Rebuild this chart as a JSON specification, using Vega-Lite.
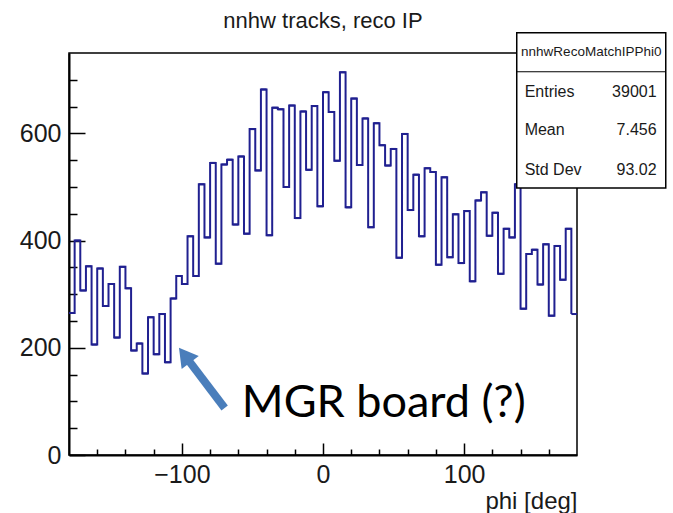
{
  "$schema": "https://vega.github.io/schema/vega-lite/v6.json",
  "width": 508,
  "height": 402,
  "autosize": {"type": "none"},
  "padding": {"left": 69, "top": 53, "right": 96, "bottom": 58},
  "background": "white",
  "config": {"view": {"stroke": "black", "strokeWidth": 1.5}, "font": "Liberation Sans"},
  "title": {"text": "nnhw tracks, reco IP", "fontSize": 22, "fontWeight": "normal", "font": "Liberation Sans", "color": "#1a1a1a", "offset": -18, "baseline": "alphabetic", "frame": "group"},
  "resolve": {"axis": {"x": "independent", "y": "independent"}},
  "datasets": {
    "hist": [
      {"lo": -180, "hi": -176, "n": 265}, {"lo": -176, "hi": -172, "n": 400}, {"lo": -172, "hi": -168, "n": 307}, {"lo": -168, "hi": -164, "n": 352}, {"lo": -164, "hi": -160, "n": 206},
      {"lo": -160, "hi": -156, "n": 348}, {"lo": -156, "hi": -152, "n": 278}, {"lo": -152, "hi": -148, "n": 319}, {"lo": -148, "hi": -144, "n": 219}, {"lo": -144, "hi": -140, "n": 351},
      {"lo": -140, "hi": -136, "n": 311}, {"lo": -136, "hi": -132, "n": 195}, {"lo": -132, "hi": -128, "n": 208}, {"lo": -128, "hi": -124, "n": 152}, {"lo": -124, "hi": -120, "n": 257},
      {"lo": -120, "hi": -116, "n": 188}, {"lo": -116, "hi": -112, "n": 263}, {"lo": -112, "hi": -108, "n": 173}, {"lo": -108, "hi": -104, "n": 292}, {"lo": -104, "hi": -100, "n": 334},
      {"lo": -100, "hi": -96, "n": 319}, {"lo": -96, "hi": -92, "n": 408}, {"lo": -92, "hi": -88, "n": 334}, {"lo": -88, "hi": -84, "n": 505}, {"lo": -84, "hi": -80, "n": 406},
      {"lo": -80, "hi": -76, "n": 545}, {"lo": -76, "hi": -72, "n": 357}, {"lo": -72, "hi": -68, "n": 542}, {"lo": -68, "hi": -64, "n": 551}, {"lo": -64, "hi": -60, "n": 430},
      {"lo": -60, "hi": -56, "n": 557}, {"lo": -56, "hi": -52, "n": 413}, {"lo": -52, "hi": -48, "n": 608}, {"lo": -48, "hi": -44, "n": 531}, {"lo": -44, "hi": -40, "n": 682},
      {"lo": -40, "hi": -36, "n": 410}, {"lo": -36, "hi": -32, "n": 648}, {"lo": -32, "hi": -28, "n": 645}, {"lo": -28, "hi": -24, "n": 500}, {"lo": -24, "hi": -20, "n": 652},
      {"lo": -20, "hi": -16, "n": 442}, {"lo": -16, "hi": -12, "n": 641}, {"lo": -12, "hi": -8, "n": 532}, {"lo": -8, "hi": -4, "n": 651}, {"lo": -4, "hi": 0, "n": 464},
      {"lo": 0, "hi": 4, "n": 677}, {"lo": 4, "hi": 8, "n": 640}, {"lo": 8, "hi": 12, "n": 549}, {"lo": 12, "hi": 16, "n": 714}, {"lo": 16, "hi": 20, "n": 462},
      {"lo": 20, "hi": 24, "n": 665}, {"lo": 24, "hi": 28, "n": 541}, {"lo": 28, "hi": 32, "n": 628}, {"lo": 32, "hi": 36, "n": 425}, {"lo": 36, "hi": 40, "n": 619},
      {"lo": 40, "hi": 44, "n": 578}, {"lo": 44, "hi": 48, "n": 540}, {"lo": 48, "hi": 52, "n": 571}, {"lo": 52, "hi": 56, "n": 368}, {"lo": 56, "hi": 60, "n": 599},
      {"lo": 60, "hi": 64, "n": 457}, {"lo": 64, "hi": 68, "n": 523}, {"lo": 68, "hi": 72, "n": 408}, {"lo": 72, "hi": 76, "n": 535}, {"lo": 76, "hi": 80, "n": 528},
      {"lo": 80, "hi": 84, "n": 355}, {"lo": 84, "hi": 88, "n": 518}, {"lo": 88, "hi": 92, "n": 369}, {"lo": 92, "hi": 96, "n": 449}, {"lo": 96, "hi": 100, "n": 358},
      {"lo": 100, "hi": 104, "n": 455}, {"lo": 104, "hi": 108, "n": 324}, {"lo": 108, "hi": 112, "n": 475}, {"lo": 112, "hi": 116, "n": 490}, {"lo": 116, "hi": 120, "n": 409},
      {"lo": 120, "hi": 124, "n": 452}, {"lo": 124, "hi": 128, "n": 338}, {"lo": 128, "hi": 132, "n": 422}, {"lo": 132, "hi": 136, "n": 406}, {"lo": 136, "hi": 140, "n": 505},
      {"lo": 140, "hi": 144, "n": 273}, {"lo": 144, "hi": 148, "n": 375}, {"lo": 148, "hi": 152, "n": 383}, {"lo": 152, "hi": 156, "n": 318}, {"lo": 156, "hi": 160, "n": 393},
      {"lo": 160, "hi": 164, "n": 260}, {"lo": 164, "hi": 168, "n": 390}, {"lo": 168, "hi": 172, "n": 327}, {"lo": 172, "hi": 176, "n": 422}, {"lo": 176, "hi": 180, "n": 263}
    ],
    "box": [{"x1": 137.3, "x2": 242.9, "y1": 788, "y2": 498, "ysep": 715, "header": "nnhwRecoMatchIPPhi0", "hx": 190.1, "hy": 752}],
    "stats": [
      {"label": "Entries", "val": "39001", "y": 678},
      {"label": "Mean", "val": "7.456", "y": 606},
      {"label": "Std Dev", "val": "93.02", "y": 532}
    ],
    "arrow": [{"x": -69.7, "y": 87.7, "x2": -98.1, "y2": 186.2, "text": "MGR board (?)", "tx": -57.5, "ty": 71}]
  },
  "layer": [
    {
      "data": {"name": "hist"},
      "mark": {"type": "line", "interpolate": "step-after", "color": "#202090", "strokeWidth": 2},
      "encoding": {
        "x": {"field": "lo", "type": "quantitative", "title": "phi [deg]",
          "scale": {"domain": [-180, 180], "nice": false, "zero": false},
          "axis": {"orient": "bottom", "values": [-100, 0, 100], "tickSize": -12,
            "labelPadding": 19, "labelFontSize": 25, "labelColor": "#1a1a1a", "labelFont": "Liberation Sans",
            "tickColor": "black", "tickWidth": 1.5, "domainColor": "black", "domainWidth": 2, "grid": false,
            "labelFlush": false, "labelOverlap": false,
            "titleAnchor": "end", "titleFontSize": 24, "titleFontWeight": "normal", "titleColor": "#1a1a1a", "titleFont": "Liberation Sans", "titlePadding": 2}},
        "y": {"field": "n", "type": "quantitative", "title": null,
          "scale": {"domain": [0, 750], "nice": false},
          "axis": {"orient": "left", "values": [0, 200, 400, 600], "tickSize": -16,
            "labelPadding": 24, "labelFontSize": 25, "labelColor": "#1a1a1a", "labelFont": "Liberation Sans",
            "tickColor": "black", "tickWidth": 1.5, "domainColor": "black", "domainWidth": 2, "grid": false,
            "labelOverlap": false, "labelFlush": false}}
      }
    },
    {
      "data": {"name": "hist"},
      "mark": {"type": "rule", "color": "#202090", "strokeWidth": 2},
      "encoding": {
        "x": {"field": "lo", "type": "quantitative", "title": null, "scale": {"domain": [-180, 180], "nice": false, "zero": false},
          "axis": {"orient": "bottom", "values": [-160, -140, -120, -80, -60, -40, -20, 20, 40, 60, 80, 120, 140, 160], "tickSize": -6, "labels": false, "domain": false, "grid": false, "tickColor": "black", "tickWidth": 1.5}},
        "x2": {"field": "hi"},
        "y": {"field": "n", "type": "quantitative", "title": null, "scale": {"domain": [0, 750], "nice": false},
          "axis": {"orient": "left", "values": [50, 100, 150, 250, 300, 350, 450, 500, 550, 650, 700], "tickSize": -8, "labels": false, "domain": false, "grid": false, "tickColor": "black", "tickWidth": 1.5}}
      }
    },
    {
      "data": {"name": "box"},
      "mark": {"type": "rect", "fill": "white", "stroke": "black", "strokeWidth": 1.5},
      "encoding": {
        "x": {"field": "x1", "type": "quantitative", "axis": null, "scale": {"domain": [-180, 180], "nice": false, "zero": false}},
        "x2": {"field": "x2"},
        "y": {"field": "y1", "type": "quantitative", "axis": null, "scale": {"domain": [0, 750], "nice": false}},
        "y2": {"field": "y2"}
      }
    },
    {
      "data": {"name": "box"},
      "mark": {"type": "rule", "color": "black", "strokeWidth": 1.2},
      "encoding": {
        "x": {"field": "x1", "type": "quantitative", "axis": null, "scale": {"domain": [-180, 180], "nice": false, "zero": false}},
        "x2": {"field": "x2"},
        "y": {"field": "ysep", "type": "quantitative", "axis": null, "scale": {"domain": [0, 750], "nice": false}}
      }
    },
    {
      "data": {"name": "box"},
      "mark": {"type": "text", "font": "Liberation Sans", "fontSize": 13.5, "color": "#1a1a1a", "align": "center", "baseline": "middle"},
      "encoding": {
        "x": {"field": "hx", "type": "quantitative", "axis": null, "scale": {"domain": [-180, 180], "nice": false, "zero": false}},
        "y": {"field": "hy", "type": "quantitative", "axis": null, "scale": {"domain": [0, 750], "nice": false}},
        "text": {"field": "header"}
      }
    },
    {
      "data": {"name": "stats"},
      "mark": {"type": "text", "font": "Liberation Sans", "fontSize": 16, "color": "#1a1a1a", "align": "left", "baseline": "middle", "x": {"expr": "scale('x', 142.9)"}},
      "encoding": {
        "y": {"field": "y", "type": "quantitative", "axis": null, "scale": {"domain": [0, 750], "nice": false}},
        "text": {"field": "label"}
      }
    },
    {
      "data": {"name": "stats"},
      "mark": {"type": "text", "font": "Liberation Sans", "fontSize": 16, "color": "#1a1a1a", "align": "right", "baseline": "middle", "x": {"expr": "scale('x', 236.4)"}},
      "encoding": {
        "y": {"field": "y", "type": "quantitative", "axis": null, "scale": {"domain": [0, 750], "nice": false}},
        "text": {"field": "val"}
      }
    },
    {
      "data": {"name": "arrow"},
      "mark": {"type": "rule", "color": "#4a7ebb", "strokeWidth": 8},
      "encoding": {
        "x": {"field": "x", "type": "quantitative", "axis": null, "scale": {"domain": [-180, 180], "nice": false, "zero": false}},
        "x2": {"field": "x2"},
        "y": {"field": "y", "type": "quantitative", "axis": null, "scale": {"domain": [0, 750], "nice": false}},
        "y2": {"field": "y2"}
      }
    },
    {
      "data": {"name": "arrow"},
      "mark": {"type": "point", "shape": "triangle-up", "filled": true, "color": "#4a7ebb", "opacity": 1, "size": 460, "angle": 322.7},
      "encoding": {
        "x": {"field": "x2", "type": "quantitative", "axis": null, "scale": {"domain": [-180, 180], "nice": false, "zero": false}},
        "y": {"field": "y2", "type": "quantitative", "axis": null, "scale": {"domain": [0, 750], "nice": false}}
      }
    },
    {
      "data": {"name": "arrow"},
      "mark": {"type": "text", "font": "Lato", "fontSize": 45, "color": "black", "align": "left", "baseline": "alphabetic"},
      "encoding": {
        "x": {"field": "tx", "type": "quantitative", "axis": null, "scale": {"domain": [-180, 180], "nice": false, "zero": false}},
        "y": {"field": "ty", "type": "quantitative", "axis": null, "scale": {"domain": [0, 750], "nice": false}},
        "text": {"field": "text"}
      }
    }
  ]
}
